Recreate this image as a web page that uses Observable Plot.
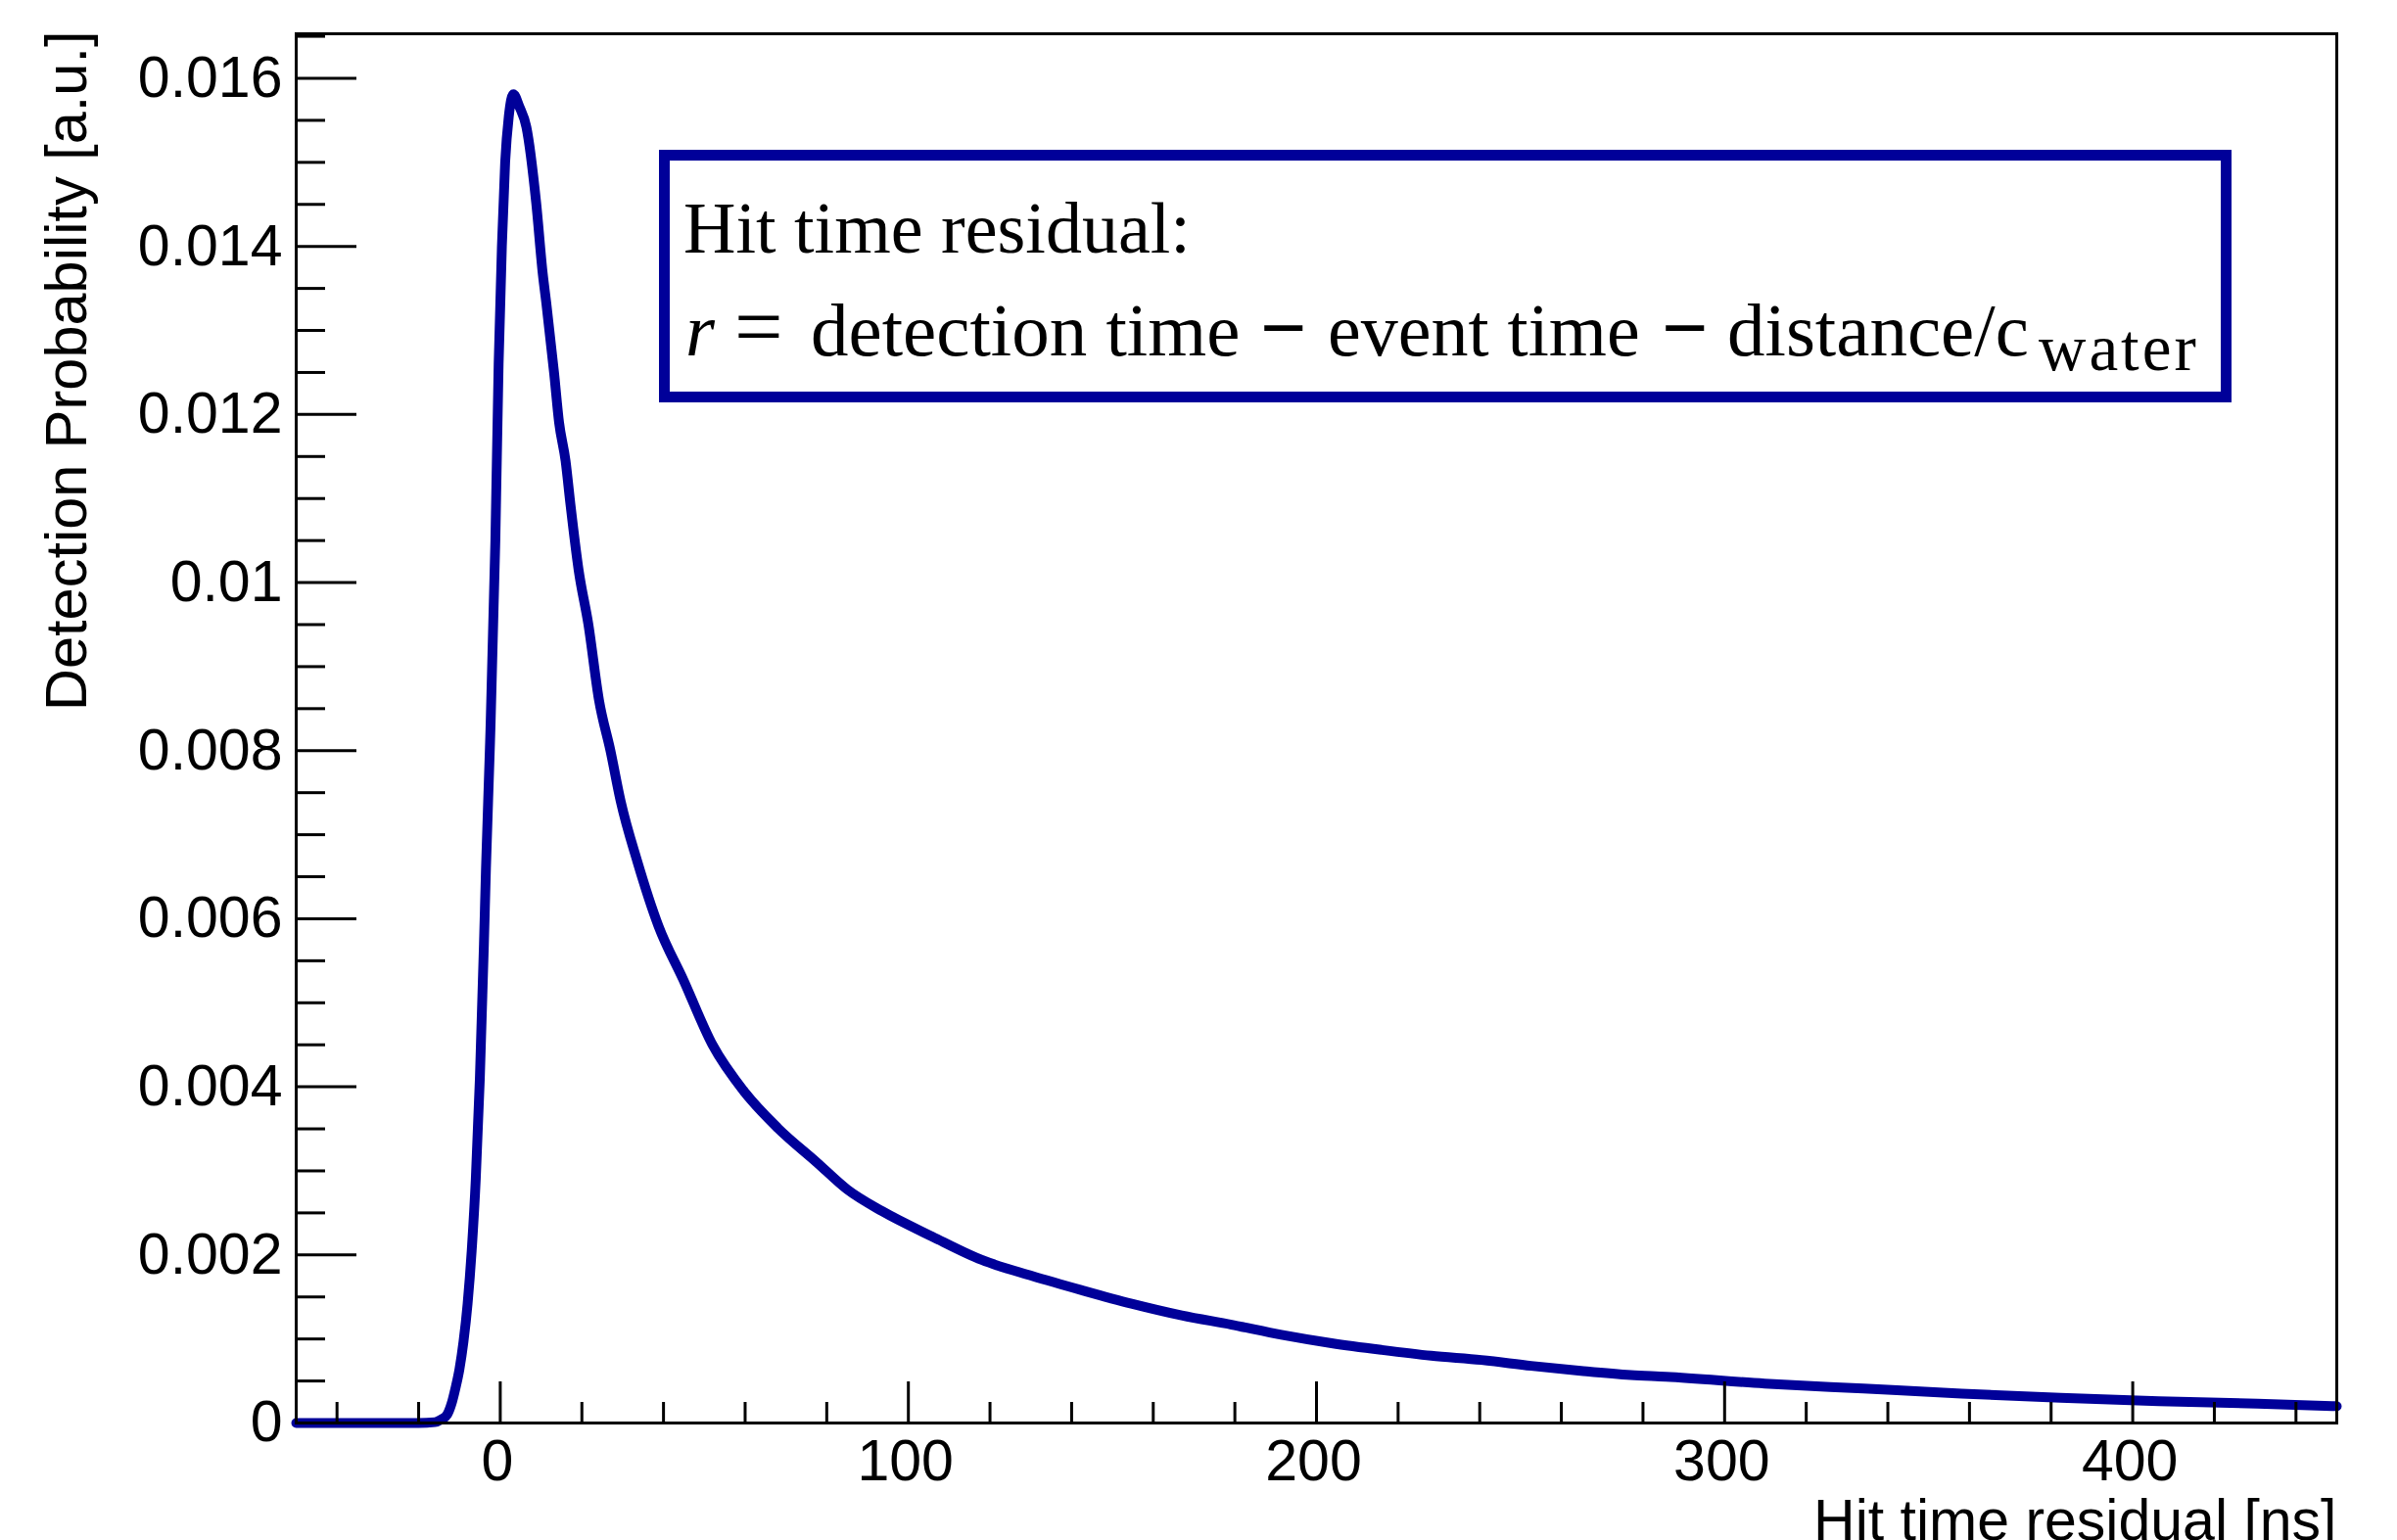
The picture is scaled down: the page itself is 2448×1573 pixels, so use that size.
<!DOCTYPE html>
<html><head><meta charset="utf-8">
<script src="https://cdn.jsdelivr.net/npm/d3@7"></script>
<script src="https://cdn.jsdelivr.net/npm/@observablehq/plot@0.6"></script>
<style>
html,body{margin:0;padding:0;background:#fff;}
#chart{position:relative;width:2448px;height:1573px;overflow:hidden;}
</style></head><body><div id="chart"></div>
<script>
// ---- data ----
const times = [-50, -20, -16, -14.5, -13, -12, -11, -10, -9, -8, -7, -6, -5, -4, -3.5, -2.5, -1.2, -0.4, 0.4, 1.2, 2.1, 3.2, 4.7, 6.4, 8.8, 10.4, 11.3, 13.2, 14.4, 16, 17.2, 19.2, 21.6, 24.2, 27, 29.5, 33.6, 38.8, 44.8, 52, 60, 68, 77.6, 85, 93.6, 105.8, 118, 130.3, 142.5, 154.7, 167, 179.2, 191.4, 203.7, 215.9, 228.1, 240.4, 252.6, 264.8, 277, 285.6, 309.8, 334, 358.1, 382.3, 406.4, 430.6, 450];
const probs = [0, 0, 0.00001, 0.00004, 0.0001, 0.00022, 0.00041, 0.00064, 0.00097, 0.00142, 0.00205, 0.0029, 0.0041, 0.0057, 0.0066, 0.0081, 0.0105, 0.0126, 0.0140, 0.0150, 0.01555, 0.01581, 0.01566, 0.01542, 0.01452, 0.01368, 0.01332, 0.01249, 0.01191, 0.01145, 0.01093, 0.01015, 0.0095, 0.0086, 0.0080, 0.0074, 0.00668, 0.00591, 0.00528, 0.0045, 0.00393, 0.00351, 0.0031, 0.00278, 0.00252, 0.00222, 0.00194, 0.00175, 0.00158, 0.00142, 0.00128, 0.00117, 0.00105, 0.00095, 0.00087, 0.0008, 0.00075, 0.00068, 0.00062, 0.00057, 0.00055, 0.00047, 0.00041, 0.00035, 0.0003, 0.00026, 0.00023, 0.0002];

const xDomain = [-50, 450];
const yDomain = [0, 0.01653];
const xMajorTicks = [0, 100, 200, 300, 400];
const xTickLabels = ["0", "100", "200", "300", "400"];
const yMajorTicks = [0, 0.002, 0.004, 0.006, 0.008, 0.01, 0.012, 0.014, 0.016];
const yTickLabels = ["0", "0.002", "0.004", "0.006", "0.008", "0.01", "0.012", "0.014", "0.016"];
const xMinorTicks = d3.range(-2, 23).filter(i => i % 5 !== 0).map(i => i * 20);
const yMinorTicks = d3.range(0, 34).filter(i => i % 4 !== 0).map(i => i * 0.0005);
const xTitle = "Hit time residual [ns]";
const yTitle = "Detection Probability [a.u.]";
const boxLine1 = "Hit time residual:";

const lineColor = "#000099";
const W = 2448, H = 1573;
const mL = 302, mR = 62, mT = 34, mB = 120;
const frameW = W - mL - mR, frameH = H - mT - mB;
const sans = "'Liberation Sans', Arial, Helvetica, sans-serif";
const serif = "'Liberation Serif', 'Times New Roman', Times, serif";

const data = times.map((t, i) => ({t, p: probs[i]}));

const plot = Plot.plot({
  width: W, height: H,
  marginLeft: mL, marginRight: mR, marginTop: mT, marginBottom: mB,
  x: {domain: xDomain, axis: null},
  y: {domain: yDomain, axis: null},
  style: {fontFamily: sans, background: "white", color: "black", overflow: "visible"},
  marks: [
    Plot.line(data, {x: "t", y: "p", curve: "monotone-x", stroke: lineColor, strokeWidth: 10, strokeLinejoin: "miter", strokeMiterlimit: 10}),
    Plot.frame({stroke: "black", strokeWidth: 3}),
    Plot.tickY(yMajorTicks, {y: d => d, insetRight: frameW - 62, stroke: "black", strokeWidth: 3}),
    Plot.tickY(yMinorTicks, {y: d => d, insetRight: frameW - 30, stroke: "black", strokeWidth: 3}),
    Plot.tickX(xMajorTicks, {x: d => d, insetTop: frameH - 42, stroke: "black", strokeWidth: 3}),
    Plot.tickX(xMinorTicks, {x: d => d, insetTop: frameH - 21, stroke: "black", strokeWidth: 3}),
    Plot.text(yMajorTicks, {y: d => d, frameAnchor: "left", text: (d, i) => yTickLabels[i], textAnchor: "end", lineAnchor: "middle", dx: -14, fontSize: 59, fill: "black"}),
    Plot.text(xMajorTicks, {x: d => d, frameAnchor: "bottom", text: (d, i) => xTickLabels[i], textAnchor: "middle", lineAnchor: "top", dx: -3, dy: 17, fontSize: 59, fill: "black"}),
    Plot.text([xTitle], {frameAnchor: "bottom-right", text: d => d, textAnchor: "end", lineAnchor: "bottom", dx: 0, dy: 119, fontSize: 59, fill: "black"}),
    Plot.text([yTitle], {frameAnchor: "top-left", text: d => d, rotate: -90, textAnchor: "end", lineAnchor: "bottom", dx: -215, dy: -3, fontSize: 59.5, fill: "black"})
  ]
});

// ---- annotation box (TPaveText-like), placed relative to the frame ----
const svg = d3.select(plot);
const g = svg.append("g").attr("font-family", serif).attr("fill", "black").attr("text-anchor", "start");
g.append("rect")
  .attr("x", 678.5).attr("y", 158.5).attr("width", 1595).attr("height", 247)
  .attr("fill", "white").attr("stroke", lineColor).attr("stroke-width", 11);
g.append("text").attr("x", 698).attr("y", 258).attr("font-size", 74).attr("text-anchor", "start").text(boxLine1);
const t2 = g.append("text").attr("y", 362.5).attr("font-size", 77).attr("text-anchor", "start");
t2.append("tspan").attr("x", 700).attr("font-style", "italic").text("r");
t2.append("tspan").attr("x", 750).attr("font-size", 88).text("=");
t2.append("tspan").attr("x", 828).text("detection time");
t2.append("tspan").attr("x", 1287).attr("font-size", 84).attr("font-weight", "bold").text("\u2212");
t2.append("tspan").attr("x", 1356).attr("font-size", 76).text("event time");
t2.append("tspan").attr("x", 1697).attr("font-size", 84).attr("font-weight", "bold").text("\u2212");
t2.append("tspan").attr("x", 1764).text("distance/c");
t2.append("tspan").attr("x", 2082).attr("dy", 15).attr("font-size", 67).attr("letter-spacing", 3).text("water");

document.getElementById("chart").appendChild(plot);
</script></body></html>
